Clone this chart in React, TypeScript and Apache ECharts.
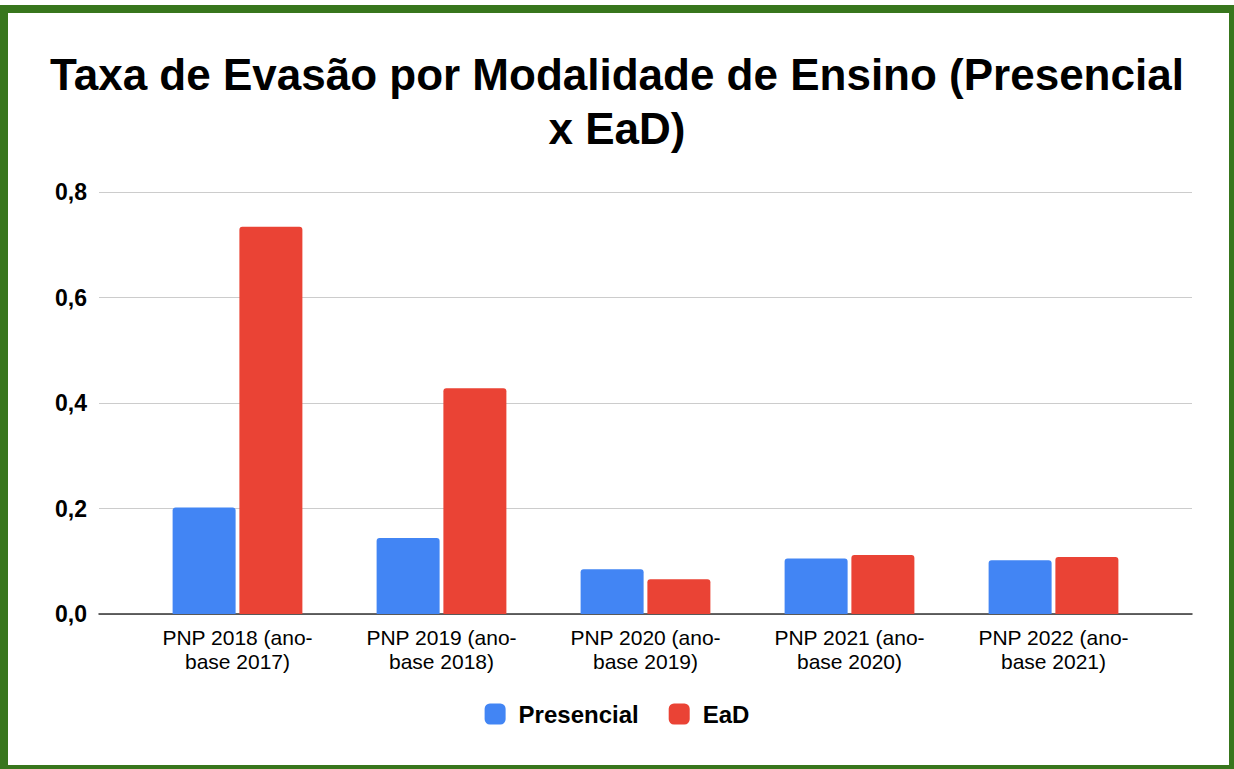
import React, { useEffect, useRef } from "react";
import * as echarts from "echarts";

const categories = [
  "PNP 2018 (ano-\nbase 2017)",
  "PNP 2019 (ano-\nbase 2018)",
  "PNP 2020 (ano-\nbase 2019)",
  "PNP 2021 (ano-\nbase 2020)",
  "PNP 2022 (ano-\nbase 2021)",
];
const presencial = [0.202, 0.144, 0.085, 0.105, 0.102];
const ead = [0.734, 0.428, 0.066, 0.112, 0.108];
const yTicks = { min: 0, max: 0.8, interval: 0.2 };

const FONT = "'Liberation Sans', Arial, sans-serif";
const GREEN = "#38761d";

export default function App() {
  const ref = useRef<HTMLDivElement>(null);
  useEffect(() => {
    if (!ref.current) return;
    const chart = echarts.init(ref.current, undefined, { renderer: "svg" });
    chart.setOption({
      animation: false,
      backgroundColor: "#ffffff",
      textStyle: { fontFamily: FONT },
      title: {
        text: "Taxa de Evasão por Modalidade de Ensino (Presencial\nx EaD)",
        left: "center",
        top: 42,
        textStyle: {
          fontFamily: FONT,
          fontSize: 44,
          fontWeight: "bold",
          color: "#000",
          lineHeight: 54,
        },
      },
      legend: {
        data: ["Presencial", "EaD"],
        left: "center",
        top: 697,
        itemWidth: 21,
        itemHeight: 21,
        itemGap: 30,
        icon: "roundRect",
        textStyle: {
          fontFamily: FONT,
          fontSize: 24,
          fontWeight: "bold",
          color: "#000",
          padding: [0, 0, 0, 8],
        },
      },
      grid: [
        { left: 99, right: 42, top: 192, bottom: 155 },
        { left: 135.5, right: 78.5, top: 192, bottom: 155 },
      ],
      xAxis: [
        {
          type: "category",
          gridIndex: 0,
          data: categories,
          axisLine: { show: true, lineStyle: { color: "#333", width: 1.5 } },
          axisTick: { show: false },
          axisLabel: { show: false },
          splitLine: { show: false },
        },
        {
          type: "category",
          gridIndex: 1,
          data: categories,
          axisLine: { show: false },
          axisTick: { show: false },
          axisLabel: {
            margin: 11,
            fontFamily: FONT,
            fontSize: 21,
            color: "#000",
            lineHeight: 24,
            interval: 0,
          },
        },
      ],
      yAxis: [
        {
          type: "value",
          gridIndex: 0,
          min: yTicks.min,
          max: yTicks.max,
          interval: yTicks.interval,
          axisLine: { show: false },
          axisTick: { show: false },
          splitLine: { lineStyle: { color: "#cccccc", width: 1 } },
          axisLabel: {
            margin: 12,
            fontFamily: FONT,
            fontSize: 23,
            fontWeight: "bold",
            color: "#000",
            formatter: (v: number) => v.toFixed(1).replace(".", ","),
          },
        },
        {
          type: "value",
          gridIndex: 1,
          min: yTicks.min,
          max: yTicks.max,
          interval: yTicks.interval,
          show: false,
          splitLine: { show: false },
        },
      ],
      series: [
        {
          name: "Presencial",
          type: "bar",
          xAxisIndex: 1,
          yAxisIndex: 1,
          data: presencial,
          barWidth: 63,
          barGap: "6%",
          itemStyle: { color: "#4285f4", borderRadius: [3, 3, 0, 0] },
        },
        {
          name: "EaD",
          type: "bar",
          xAxisIndex: 1,
          yAxisIndex: 1,
          data: ead,
          barWidth: 63,
          barGap: "6%",
          itemStyle: { color: "#ea4335", borderRadius: [3, 3, 0, 0] },
        },
      ],
      graphic: [
        { type: "rect", shape: { x: 0, y: 5, width: 8, height: 764 }, style: { fill: GREEN }, z: 100 },
        { type: "rect", shape: { x: 0, y: 5, width: 1234, height: 8 }, style: { fill: GREEN }, z: 100 },
        { type: "rect", shape: { x: 1229, y: 5, width: 5, height: 764 }, style: { fill: GREEN }, z: 100 },
        { type: "rect", shape: { x: 0, y: 765, width: 1234, height: 4 }, style: { fill: GREEN }, z: 100 },
      ],
    });
    return () => chart.dispose();
  }, []);
  return (
    <div
      ref={ref}
      style={{ position: "absolute", left: 0, top: 0, width: 1234, height: 769, background: "#fff" }}
    />
  );
}
